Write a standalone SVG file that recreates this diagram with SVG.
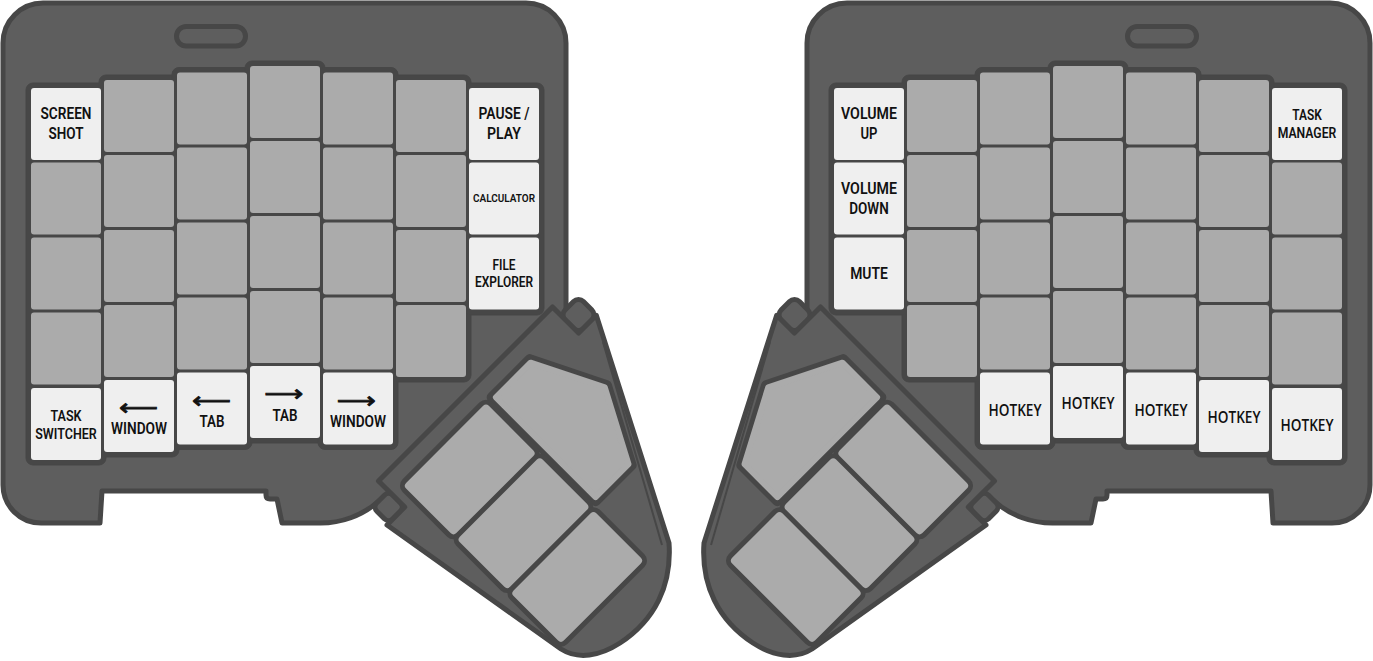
<svg xmlns="http://www.w3.org/2000/svg" xmlns:xlink="http://www.w3.org/1999/xlink" width="1373" height="661" viewBox="0 0 1373 661">
<style>
.body{fill:#5e5e5e;stroke:#474747;stroke-width:5;stroke-linejoin:round}
.plate{fill:#474747;stroke:#474747;stroke-width:1}
.key{fill:#ababab}
.lkey{fill:#efefef}
.tplate{fill:#474747;stroke:#474747;stroke-width:10;stroke-linejoin:round}
.lbl{font-family:Roboto,"Liberation Sans",sans-serif;font-weight:600;fill:#111;text-anchor:middle}
.hk{font-family:"Open Sans","Liberation Sans",sans-serif;font-weight:600;fill:#111;text-anchor:middle;font-size:17px}
.arr{font-family:"DejaVu Sans",sans-serif;fill:#111;stroke:#111;stroke-width:0.8;text-anchor:middle;font-size:22px}
.thin{fill:none;stroke:#474747;stroke-width:2}
</style>
<defs>
<g id="halfShape">
  <path class="body" d="M3,43 A40,40 0 0 1 43,3 L526,3 A40,40 0 0 1 566,43 L566,330 L420,500 L380,500 A88,88 0 0 1 317,523 L282,523 L277,499 L270,499 Q266,499 266,495 L266,491 L102,491 L100,523 L41,523 A38,38 0 0 1 3,485 Z"/>
  <rect class="body" x="176.5" y="26.5" width="69" height="19.5" rx="9.75"/>
  <g id="gridPlates">
    <rect class="plate" x="26" y="83" width="80" height="382" rx="7"/>
    <rect class="plate" x="99" y="75" width="80" height="382" rx="7"/>
    <rect class="plate" x="172" y="67.5" width="80" height="382" rx="7"/>
    <rect class="plate" x="245" y="61" width="80" height="382" rx="7"/>
    <rect class="plate" x="318" y="67.5" width="80" height="382" rx="7"/>
    <rect class="plate" x="391" y="75" width="80" height="307" rx="7"/>
    <rect class="plate" x="464" y="83" width="80" height="232" rx="7"/>
  </g>
  <g id="greyKeys">
    <rect class="key" x="31" y="162.5" width="70" height="72" rx="3"/>
    <rect class="key" x="31" y="237.5" width="70" height="72" rx="3"/>
    <rect class="key" x="31" y="312.5" width="70" height="72" rx="3"/>
    <rect class="key" x="104" y="80" width="70" height="72" rx="3"/>
    <rect class="key" x="104" y="155" width="70" height="72" rx="3"/>
    <rect class="key" x="104" y="230" width="70" height="72" rx="3"/>
    <rect class="key" x="104" y="305" width="70" height="72" rx="3"/>
    <rect class="key" x="177" y="72.5" width="70" height="72" rx="3"/>
    <rect class="key" x="177" y="147.5" width="70" height="72" rx="3"/>
    <rect class="key" x="177" y="222.5" width="70" height="72" rx="3"/>
    <rect class="key" x="177" y="297.5" width="70" height="72" rx="3"/>
    <rect class="key" x="250" y="66" width="70" height="72" rx="3"/>
    <rect class="key" x="250" y="141" width="70" height="72" rx="3"/>
    <rect class="key" x="250" y="216" width="70" height="72" rx="3"/>
    <rect class="key" x="250" y="291" width="70" height="72" rx="3"/>
    <rect class="key" x="323" y="72.5" width="70" height="72" rx="3"/>
    <rect class="key" x="323" y="147.5" width="70" height="72" rx="3"/>
    <rect class="key" x="323" y="222.5" width="70" height="72" rx="3"/>
    <rect class="key" x="323" y="297.5" width="70" height="72" rx="3"/>
    <rect class="key" x="396" y="80" width="70" height="72" rx="3"/>
    <rect class="key" x="396" y="155" width="70" height="72" rx="3"/>
    <rect class="key" x="396" y="230" width="70" height="72" rx="3"/>
    <rect class="key" x="396" y="305" width="70" height="72" rx="3"/>
  </g>
  <g id="thumbCluster">
    <rect class="body" x="-13" y="-13" width="26" height="26" rx="7" transform="translate(578.5 315) rotate(45)"/>
    <rect class="body" x="-11.3" y="-11.3" width="22.6" height="22.6" rx="6" transform="translate(388.6 507) rotate(45)"/>
    <path class="body" d="M378.5,481 L552.5,307 L578.6,333 L596.3,315.3 L669,543 C672,585 655,620 620,643 C600,656 578,660 561,649 L387,525 L404.7,507 Z"/>
    <path class="thin" d="M603,342 L662,545"/>
    <g transform="translate(486 403) rotate(45)">
      <path class="tplate" d="M0,-8 L0,-62 L73,-98 L147,-59 L147,-8 Z"/>
      <rect class="tplate" x="0" y="0" width="71" height="117" rx="4"/>
      <rect class="tplate" x="76" y="0" width="71" height="117" rx="4"/>
      <rect class="tplate" x="152" y="0" width="71" height="117" rx="4"/>
      <path class="key" stroke="#ababab" stroke-width="6" stroke-linejoin="round" d="M3,-11 L3,-60 L73,-95 L144,-57.5 L144,-11 Z"/>
      <rect class="key" x="0" y="0" width="71" height="117" rx="4"/>
      <rect class="key" x="76" y="0" width="71" height="117" rx="4"/>
      <rect class="key" x="152" y="0" width="71" height="117" rx="4"/>
    </g>
  </g>
</g>
</defs>

<g id="left-half">
  <use xlink:href="#halfShape" href="#halfShape"/>
</g>
<g id="right-half">
  <use xlink:href="#halfShape" href="#halfShape" transform="matrix(-1 0 0 1 1373 0)"/>
</g>

<g id="key-screenshot">
  <rect class="lkey" x="31" y="88" width="70" height="72" rx="3"/>
  <text class="lbl" font-size="17" x="66" y="119" textLength="51" lengthAdjust="spacingAndGlyphs">SCREEN</text>
  <text class="lbl" font-size="17" x="66" y="139" textLength="35" lengthAdjust="spacingAndGlyphs">SHOT</text>
</g>
<g id="key-pause-play">
  <rect class="lkey" x="469" y="88" width="70" height="72" rx="3"/>
  <text class="lbl" font-size="17" x="504" y="119" textLength="51" lengthAdjust="spacingAndGlyphs">PAUSE /</text>
  <text class="lbl" font-size="17" x="504" y="139" textLength="34" lengthAdjust="spacingAndGlyphs">PLAY</text>
</g>
<g id="key-calculator">
  <rect class="lkey" x="469" y="162.5" width="70" height="72" rx="3"/>
  <text class="lbl" font-size="11.7" x="504" y="202" textLength="62" lengthAdjust="spacingAndGlyphs">CALCULATOR</text>
</g>
<g id="key-file-explorer">
  <rect class="lkey" x="469" y="237.5" width="70" height="72" rx="3"/>
  <text class="lbl" font-size="14" x="504" y="270" textLength="23" lengthAdjust="spacingAndGlyphs">FILE</text>
  <text class="lbl" font-size="14" x="504" y="287" textLength="58" lengthAdjust="spacingAndGlyphs">EXPLORER</text>
</g>
<g id="key-task-switcher">
  <rect class="lkey" x="31" y="388" width="70" height="72" rx="3"/>
  <text class="lbl" font-size="15.5" x="66" y="421" textLength="31" lengthAdjust="spacingAndGlyphs">TASK</text>
  <text class="lbl" font-size="15.5" x="66" y="439" textLength="61.5" lengthAdjust="spacingAndGlyphs">SWITCHER</text>
</g>
<g id="key-window-left">
  <rect class="lkey" x="104" y="380" width="70" height="72" rx="3"/>
  <text class="arr" x="138.5" y="414.5" textLength="39" lengthAdjust="spacingAndGlyphs">⟵</text>
  <text class="lbl" font-size="16" x="139" y="434" textLength="56" lengthAdjust="spacingAndGlyphs">WINDOW</text>
</g>
<g id="key-tab-left">
  <rect class="lkey" x="177" y="372.5" width="70" height="72" rx="3"/>
  <text class="arr" x="211.5" y="407.5" textLength="39" lengthAdjust="spacingAndGlyphs">⟵</text>
  <text class="lbl" font-size="16" x="212" y="427" textLength="25" lengthAdjust="spacingAndGlyphs">TAB</text>
</g>
<g id="key-tab-right">
  <rect class="lkey" x="250" y="366" width="70" height="72" rx="3"/>
  <text class="arr" x="284" y="400.5" textLength="39" lengthAdjust="spacingAndGlyphs">⟶</text>
  <text class="lbl" font-size="16" x="285" y="421" textLength="25" lengthAdjust="spacingAndGlyphs">TAB</text>
</g>
<g id="key-window-right">
  <rect class="lkey" x="323" y="372.5" width="70" height="72" rx="3"/>
  <text class="arr" x="356.5" y="407.5" textLength="39" lengthAdjust="spacingAndGlyphs">⟶</text>
  <text class="lbl" font-size="16" x="358" y="427" textLength="56" lengthAdjust="spacingAndGlyphs">WINDOW</text>
</g>

<g id="key-volume-up">
  <rect class="lkey" x="834" y="88" width="70" height="72" rx="3"/>
  <text class="lbl" font-size="17" x="869" y="119" textLength="56" lengthAdjust="spacingAndGlyphs">VOLUME</text>
  <text class="lbl" font-size="17" x="869" y="139" textLength="17" lengthAdjust="spacingAndGlyphs">UP</text>
</g>
<g id="key-volume-down">
  <rect class="lkey" x="834" y="162.5" width="70" height="72" rx="3"/>
  <text class="lbl" font-size="17" x="869" y="194" textLength="56" lengthAdjust="spacingAndGlyphs">VOLUME</text>
  <text class="lbl" font-size="17" x="869" y="214" textLength="39.5" lengthAdjust="spacingAndGlyphs">DOWN</text>
</g>
<g id="key-mute">
  <rect class="lkey" x="834" y="237.5" width="70" height="72" rx="3"/>
  <text class="lbl" font-size="17" x="869" y="279" textLength="37.7" lengthAdjust="spacingAndGlyphs">MUTE</text>
</g>
<g id="key-task-manager">
  <rect class="lkey" x="1272" y="88" width="70" height="72" rx="3"/>
  <text class="lbl" font-size="15" x="1307" y="120" textLength="29.6" lengthAdjust="spacingAndGlyphs">TASK</text>
  <text class="lbl" font-size="15" x="1307" y="138" textLength="58.5" lengthAdjust="spacingAndGlyphs">MANAGER</text>
</g>
<g id="key-hotkey-1">
  <rect class="lkey" x="980" y="372.5" width="70" height="72" rx="3"/>
  <text class="hk" x="1015" y="416" textLength="53" lengthAdjust="spacingAndGlyphs">HOTKEY</text>
</g>
<g id="key-hotkey-2">
  <rect class="lkey" x="1053" y="366" width="70" height="72" rx="3"/>
  <text class="hk" x="1088" y="409" textLength="53" lengthAdjust="spacingAndGlyphs">HOTKEY</text>
</g>
<g id="key-hotkey-3">
  <rect class="lkey" x="1126" y="372.5" width="70" height="72" rx="3"/>
  <text class="hk" x="1161" y="416" textLength="53" lengthAdjust="spacingAndGlyphs">HOTKEY</text>
</g>
<g id="key-hotkey-4">
  <rect class="lkey" x="1199" y="380" width="70" height="72" rx="3"/>
  <text class="hk" x="1234" y="423" textLength="53" lengthAdjust="spacingAndGlyphs">HOTKEY</text>
</g>
<g id="key-hotkey-5">
  <rect class="lkey" x="1272" y="388" width="70" height="72" rx="3"/>
  <text class="hk" x="1307" y="431" textLength="53" lengthAdjust="spacingAndGlyphs">HOTKEY</text>
</g>
<g id="connectors"/>
</svg>
